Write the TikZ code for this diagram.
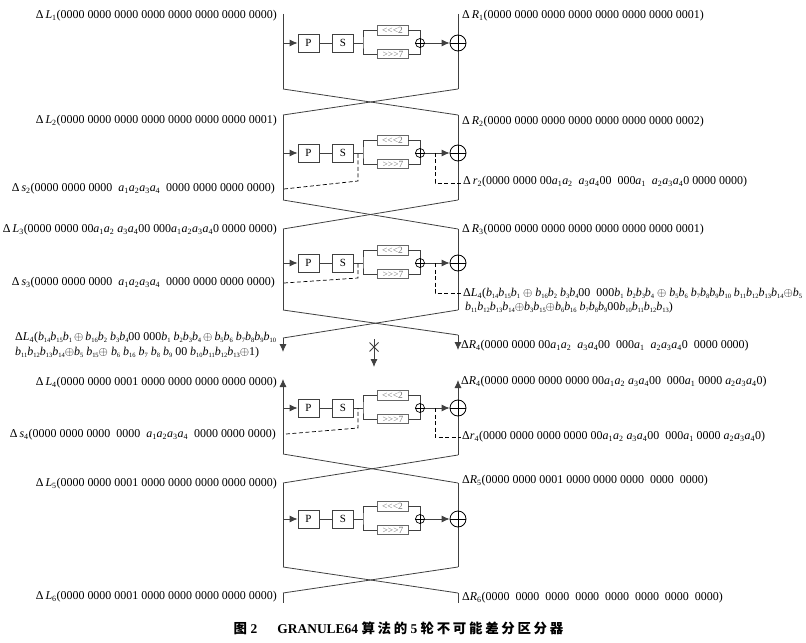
\documentclass[tikz,border=0pt]{standalone}
\usepackage{fontspec}
\setmainfont{Liberation Serif}
\newfontfamily\cjk{Noto Sans CJK SC}
\usetikzlibrary{arrows.meta}
\newcommand\xa[1]{\textit{a}\textsubscript{#1}}
\newcommand\subb[1]{\raisebox{-0.35ex}{\fontsize{6.5}{6}\selectfont #1}}
\newcommand\xb[1]{\textit{b}\subb{#1}}
\newcommand\xL[1]{\textit{L}\textsubscript{#1}}
\newcommand\xR[1]{\textit{R}\textsubscript{#1}}
\newcommand\xs[1]{\textit{s}\textsubscript{#1}}
\newcommand\xr[1]{\textit{r}\textsubscript{#1}}
\newcommand\xo{$\oplus$}
\definecolor{lncol}{gray}{0.25}
\tikzset{
 ln/.style={draw=lncol, line width=0.8bp},
 arr/.style={-{Latex[length=8bp,width=7bp]}},
 dsh/.style={draw=black, line width=0.7bp, dash pattern=on 4bp off 2.5bp},
 fbox/.style={draw=lncol, line width=0.8bp, minimum width=21bp, minimum height=18bp, inner sep=0, font=\fontsize{11}{11}\selectfont},
 shbox/.style={draw=black!60, line width=0.7bp, minimum width=31bp, minimum height=9.5bp, inner sep=0, font=\fontsize{9.5}{9}\selectfont, text=black!55},
 xsm/.style={draw=black, line width=0.7bp, circle, minimum size=9bp, inner sep=0},
 xbg/.style={draw=black, line width=0.8bp, circle, minimum size=16bp, inner sep=0},
 lbl/.style={anchor=east, inner sep=0, font=\fontsize{12}{14}\selectfont},
 rbl/.style={anchor=west, inner sep=0, font=\fontsize{12}{14}\selectfont},
 fbl/.style={anchor=west, inner sep=0, font=\fontsize{12}{14}\selectfont},
}
\begin{document}
\begin{tikzpicture}[x=1bp,y=-1bp]
\useasboundingbox (0,0) rectangle (806,643);
% rails
\foreach \i/\t/\b in {1/14/89,2/115/200,3/229/310,5/483/567,6/593/603}{
  \coordinate (Lt\i) at (283,\t); \coordinate (Lb\i) at (283,\b);
  \coordinate (Rt\i) at (458,\t); \coordinate (Rb\i) at (458,\b);
  \draw[ln] (Lt\i) -- (Lb\i);
  \draw[ln] (Rt\i) -- (Rb\i);
}
\coordinate (Lt4) at (283,379); \coordinate (Lb4) at (283,454);
\coordinate (Rt4) at (458,380); \coordinate (Rb4) at (458,455);
\draw[ln,arr] (Lb4) -- (Lt4);
\draw[ln,arr] (Rb4) -- (Rt4);
% crossings
\draw[ln] (Lb1) -- (Rt2); \draw[ln] (Rb1) -- (Lt2);
\draw[ln] (Lb2) -- (Rt3); \draw[ln] (Rb2) -- (Lt3);
\draw[ln] (Lb4) -- (Rt5); \draw[ln] (Rb4) -- (Lt5);
\draw[ln] (Lb5) -- (Rt6); \draw[ln] (Rb5) -- (Lt6);
\coordinate (La) at (283,338); \coordinate (Ra) at (458,335);
\coordinate (Laa) at (283,352); \coordinate (Raa) at (458,350);
\draw[ln] (Lb3) -- (Ra); \draw[ln] (Rb3) -- (La);
\draw[ln,arr] (La) -- (Laa); \draw[ln,arr] (Ra) -- (Raa);
% impossible arrow
\coordinate (M1) at (374,339); \coordinate (M2) at (374,367);
\draw[ln,arr] (M1) -- (M2);
\draw[ln] (369.5,342.5) -- (378.5,351.5) (378.5,342.5) -- (369.5,351.5);
% F functions
\foreach \n/\y in {1/43,2/153,3/263,4/408,5/519}{
  \coordinate (LF\n) at (283,\y);
  \node[fbox] (P\n) at (308.5,\y) {P};
  \node[fbox] (S\n) at (343,\y) {S};
  \coordinate (B\n) at (363,\y);
  \node[shbox] (T\n) at (392.5,\y-12.5) {<{}<{}<{}2};
  \node[shbox] (U\n) at (393,\y+11) {>{}>{}>{}7};
  \node[xsm] (X\n) at (420,\y) {};
  \node[xbg] (Y\n) at (458,\y) {};
  \draw[ln,arr] (LF\n) -- (P\n.west);
  \draw[ln] (P\n) -- (S\n);
  \draw[ln] (S\n) -- (B\n);
  \draw[ln] (T\n.west) -| (B\n) |- (U\n.west);
  \draw[ln] (T\n.east) -| (X\n.north);
  \draw[ln] (U\n.east) -| (X\n.south);
  \draw[line width=0.7bp] (X\n.north) -- (X\n.south) (X\n.west) -- (X\n.east);
  \draw[ln,arr] (X\n.east) -- (Y\n.west);
  \draw[line width=0.8bp] (Y\n.west) -- (Y\n.east) (Y\n.north) -- (Y\n.south);
}
% dashed connectors
\coordinate (ds2) at (284,189); \coordinate (dk2) at (358,181); \coordinate (dt2) at (358,153);
\draw[dsh] (ds2) -- (dk2) -- (dt2);
\coordinate (dr2a) at (435,153); \coordinate (dr2c) at (461,183);
\draw[dsh] (dr2a) |- (dr2c);
\coordinate (ds3) at (284,283); \coordinate (dk3) at (358,278); \coordinate (dt3) at (358,263);
\draw[dsh] (ds3) -- (dk3) -- (dt3);
\coordinate (dr3a) at (435,263); \coordinate (dr3c) at (461,293);
\draw[dsh] (dr3a) |- (dr3c);
\coordinate (ds4) at (286,434); \coordinate (dk4) at (358,428); \coordinate (dt4) at (358,408);
\draw[dsh] (ds4) -- (dk4) -- (dt4);
\coordinate (dr4a) at (435,408); \coordinate (dr4c) at (461,437);
\draw[dsh] (dr4a) |- (dr4c);
% left labels
\node[lbl] (tL1) at (277,16) {Δ\,\xL{1}(0000 0000 0000 0000 0000 0000 0000 0000)};
\node[lbl] (tL2) at (277,121) {Δ\,\xL{2}(0000 0000 0000 0000 0000 0000 0000 0001)};
\node[lbl] (ts2) at (275,189) {Δ\,\xs{2}(0000 0000 0000\ \ \xa1\xa2\xa3\xa4\ \ 0000 0000 0000 0000)};
\node[lbl] (tL3) at (277,230) {Δ\,\xL{3}(0000 0000 00\xa1\xa2\ \xa3\xa400 000\xa1\xa2\xa3\xa40 0000 0000)};
\node[lbl] (ts3) at (275,283) {Δ\,\xs{3}(0000 0000 0000\ \ \xa1\xa2\xa3\xa4\ \ 0000 0000 0000 0000)};
\node[fbl] (tL4a) at (15,338) {Δ\xL{4}(\xb{14}\xb{15}\xb{1}\,\xo\,\xb{16}\xb{2} \xb{3}\xb{4}00 000\xb{1} \xb{2}\xb{3}\xb{4}\,\xo\,\xb{5}\xb{6} \xb{7}\xb{8}\xb{9}\xb{10}};
\node[fbl] (tL4b) at (15,353) {\xb{11}\xb{12}\xb{13}\xb{14}\xo\xb{5} \xb{15}\xo{} \xb{6} \xb{16} \xb{7} \xb{8} \xb{9} 00 \xb{10}\xb{11}\xb{12}\xb{13}\xo1)};
\node[lbl] (tL4) at (277,383) {Δ\,\xL{4}(0000 0000 0001 0000 0000 0000 0000 0000)};
\node[lbl] (ts4) at (276,435) {Δ\,\xs{4}(0000 0000 0000\ \ 0000\ \ \xa1\xa2\xa3\xa4\ \ 0000 0000 0000)};
\node[lbl] (tL5) at (277,484) {Δ\,\xL{5}(0000 0000 0001 0000 0000 0000 0000 0000)};
\node[lbl] (tL6) at (277,597) {Δ\,\xL{6}(0000 0000 0001 0000 0000 0000 0000 0000)};
% right labels
\node[rbl] (tR1) at (462,16) {Δ\,\xR{1}(0000 0000 0000 0000 0000 0000 0000 0001)};
\node[rbl] (tR2) at (462,122) {Δ\,\xR{2}(0000 0000 0000 0000 0000 0000 0000 0002)};
\node[rbl] (tr2) at (463,182) {Δ\,\xr{2}(0000 0000 00\xa1\xa2\ \ \xa3\xa400\ \ 000\xa1\ \ \xa2\xa3\xa40 0000 0000)};
\node[rbl] (tR3) at (462,230) {Δ\,\xR{3}(0000 0000 0000 0000 0000 0000 0000 0001)};
\node[rbl] (tRL4a) at (463,294) {Δ\xL{4}(\xb{14}\xb{15}\xb{1} \xo{} \xb{16}\xb{2} \xb{3}\xb{4}00\ \ 000\xb{1} \xb{2}\xb{3}\xb{4} \xo{} \xb{5}\xb{6} \xb{7}\xb{8}\xb{9}\xb{10} \xb{11}\xb{12}\xb{13}\xb{14}\xo\xb{5}};
\node[rbl] (tRL4b) at (465,308) {\xb{11}\xb{12}\xb{13}\xb{14}\xo\xb{3}\xb{15}\xo\xb{6}\xb{16} \xb{7}\xb{8}\xb{9}00\xb{10}\xb{11}\xb{12}\xb{13})};
\node[rbl] (tR4a) at (461,346) {Δ\xR{4}(0000 0000 00\xa1\xa2\ \ \xa3\xa400\ \ 000\xa1\ \ \xa2\xa3\xa40\ \ 0000 0000)};
\node[rbl] (tR4b) at (461,382) {Δ\xR{4}(0000 0000 0000 0000 00\xa1\xa2 \xa3\xa400\ \ 000\xa1 0000 \xa2\xa3\xa40)};
\node[rbl] (tr4) at (462,437) {Δ\xr{4}(0000 0000 0000 0000 00\xa1\xa2 \xa3\xa400\ \ 000\xa1 0000 \xa2\xa3\xa40)};
\node[rbl] (tR5) at (462,481) {Δ\xR{5}(0000 0000 0001 0000 0000 0000\ \ 0000\ \ 0000)};
\node[rbl] (tR6) at (462,598) {Δ\xR{6}(0000\ \ 0000\ \ 0000\ \ 0000\ \ 0000\ \ 0000\ \ 0000\ \ 0000)};
% caption
\node[inner sep=0, font=\fontsize{13.5}{13.5}\selectfont\bfseries] (cap) at (398.5,628)
  {{\cjk\bfseries 图} 2\hspace{1.5em}GRANULE64 {\cjk\bfseries 算\hspace{0.2em}法\hspace{0.2em}的} 5 {\cjk\bfseries 轮\hspace{0.2em}不\hspace{0.2em}可\hspace{0.2em}能\hspace{0.2em}差\hspace{0.2em}分\hspace{0.2em}区\hspace{0.2em}分\hspace{0.2em}器}};
\end{tikzpicture}
\end{document}
